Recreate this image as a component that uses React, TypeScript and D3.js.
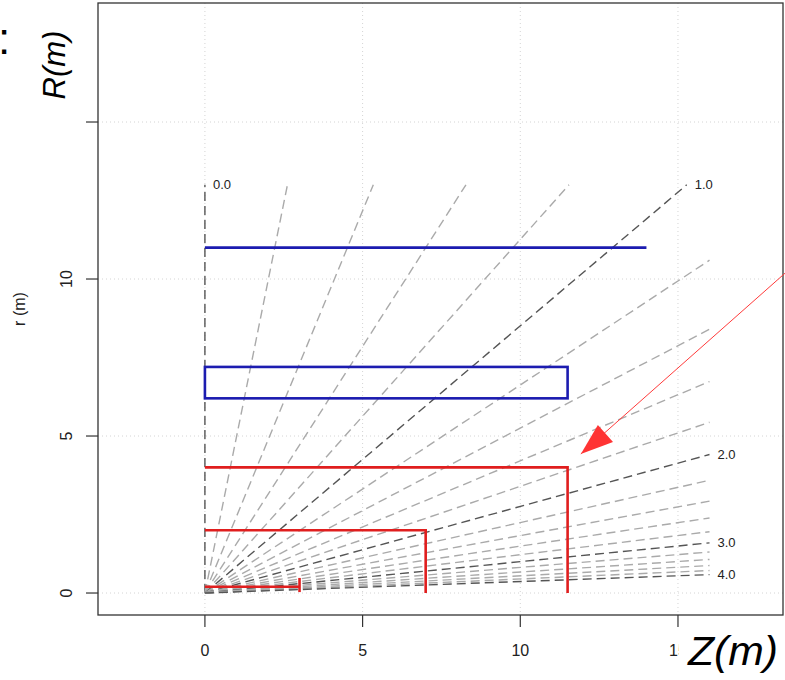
import React from "react";
import { scaleLinear, line } from "d3";

// pseudorapidity lines drawn from the origin, every 0.2
const etaValues = [
  0.0, 0.2, 0.4, 0.6, 0.8, 1.0, 1.2, 1.4, 1.6, 1.8, 2.0, 2.2, 2.4, 2.6, 2.8,
  3.0, 3.2, 3.4, 3.6, 3.8, 4.0,
];
const etaLabelled = [0, 1, 2, 3, 4];
const etaRMax = 13;
const etaZMax = 16;

const xTicks = [0, 5, 10, 15];
const yTicks = [0, 5, 10, 15];
const xTickLabels = ["0", "5", "10", "15"];
const yTickLabels = ["0", "5", "10", "15"];

// detector outlines (z, r in metres)
const blueLines = [{ r: 11, z0: 0, z1: 14 }];
const blueBoxes = [{ r0: 6.2, r1: 7.2, z0: 0, z1: 11.5 }];
const redCorners = [
  { r: 4, z: 11.5 },
  { r: 2, z: 7 },
];
const redSmall = [{ r: 0.2, z: 3, rLo: 0.03, rHi: 0.48 }];

// annotation arrow
const arrowFrom: [number, number] = [18.4, 10.19];
const arrowTip: [number, number] = [11.92, 4.43];
const arrowBase: [number, number][] = [
  [12.46, 5.35],
  [12.94, 4.81],
];

const W = 785;
const H = 680;
const box = { left: 98, top: 3, right: 783, bottom: 615 };

export default function App() {
  const x = scaleLinear().domain([-3.39, 18.33]).range([box.left, box.right]);
  const y = scaleLinear().domain([-0.7, 18.79]).range([box.bottom, box.top]);
  const path = line<[number, number]>()
    .x((d) => x(d[0]))
    .y((d) => y(d[1]));

  const etaEnd = (eta: number): [number, number] => {
    const s = Math.sinh(eta);
    if (s === 0) return [0, etaRMax];
    const z = Math.min(etaZMax, etaRMax * s);
    return [z, z / s];
  };
  const isLabelled = (eta: number) =>
    etaLabelled.some((e) => Math.abs(e - eta) < 1e-6);

  const font = "'Liberation Sans', Arial, Helvetica, sans-serif";

  return (
    <svg
      width={W}
      height={H}
      style={{ position: "absolute", left: 0, top: 0, background: "#fff" }}
      fontFamily={font}
    >
      {/* grid */}
      <g stroke="#d4d4d4" strokeWidth={1} strokeDasharray="1,3">
        {xTicks.map((t) => (
          <line key={"gx" + t} x1={x(t)} x2={x(t)} y1={box.top} y2={box.bottom} />
        ))}
        {yTicks.map((t) => (
          <line key={"gy" + t} x1={box.left} x2={box.right} y1={y(t)} y2={y(t)} />
        ))}
      </g>

      {/* eta lines */}
      <g fill="none" strokeDasharray="9,5">
        {etaValues.map((eta) => {
          const end = etaEnd(eta);
          const dark = isLabelled(eta);
          return (
            <path
              key={"eta" + eta}
              d={path([[0, 0], end]) || ""}
              stroke={dark ? "#555" : "#aaa"}
              strokeWidth={1.4}
            />
          );
        })}
      </g>
      <g fontSize={13} fill="#222">
        {etaLabelled.map((eta) => {
          const end = etaEnd(eta);
          return (
            <text
              key={"etal" + eta}
              x={x(end[0]) + 8}
              y={y(end[1])}
              dy="0.35em"
            >
              {eta.toFixed(1)}
            </text>
          );
        })}
      </g>

      {/* blue outlines */}
      <g fill="none" stroke="#1c1cb0" strokeWidth={2.6}>
        {blueLines.map((b, i) => (
          <path key={"bl" + i} d={path([[b.z0, b.r], [b.z1, b.r]]) || ""} />
        ))}
        {blueBoxes.map((b, i) => (
          <rect
            key={"bb" + i}
            x={x(b.z0)}
            y={y(b.r1)}
            width={x(b.z1) - x(b.z0)}
            height={y(b.r0) - y(b.r1)}
          />
        ))}
      </g>

      {/* red outlines */}
      <g fill="none" stroke="#e01e1e" strokeWidth={2.6}>
        {redCorners.map((c, i) => (
          <path
            key={"rc" + i}
            d={path([[0, c.r], [c.z, c.r], [c.z, 0]]) || ""}
          />
        ))}
        {redSmall.map((c, i) => (
          <g key={"rs" + i}>
            <path d={path([[0, c.r], [c.z, c.r]]) || ""} />
            <path d={path([[c.z, c.rLo], [c.z, c.rHi]]) || ""} />
          </g>
        ))}
      </g>

      {/* frame */}
      <rect
        x={box.left}
        y={box.top}
        width={box.right - box.left}
        height={box.bottom - box.top}
        fill="none"
        stroke="#333"
        strokeWidth={1.3}
      />

      {/* axes */}
      <g stroke="#333" strokeWidth={1.2}>
        {xTicks.map((t) => (
          <line key={"tx" + t} x1={x(t)} x2={x(t)} y1={box.bottom} y2={box.bottom + 12} />
        ))}
        {yTicks.map((t) => (
          <line key={"ty" + t} x1={box.left - 12} x2={box.left} y1={y(t)} y2={y(t)} />
        ))}
      </g>
      <g fontSize={16} fill="#222" textAnchor="middle">
        {xTicks.map((t, i) => (
          <text key={"lx" + t} x={x(t)} y={656}>
            {xTickLabels[i]}
          </text>
        ))}
        {yTicks.map((t, i) => (
          <text
            key={"ly" + t}
            x={72}
            y={y(t)}
            transform={`rotate(-90, 72, ${y(t)})`}
          >
            {yTickLabels[i]}
          </text>
        ))}
        <text
          x={25}
          y={(box.top + box.bottom) / 2}
          fontSize={16}
          transform={`rotate(-90, 25, ${(box.top + box.bottom) / 2})`}
        >
          r (m)
        </text>
      </g>

      {/* annotation arrow */}
      <path
        d={path([arrowFrom, arrowTip]) || ""}
        stroke="#ff3a3a"
        strokeWidth={1}
        fill="none"
      />
      <path
        d={(path([arrowTip, arrowBase[0], arrowBase[1]]) || "") + "Z"}
        fill="#ff3434"
        stroke="none"
      />

      {/* overlaid axis names */}
      <text x={-2} y={54} fontSize={44} fill="#000" fontFamily={font}>
        :
      </text>
      <rect x={30} y={26} width={55} height={112} fill="#fff" />
      <text
        x={65}
        y={65}
        fontSize={31}
        fontStyle="italic"
        textAnchor="middle"
        transform="rotate(-90, 65, 65)"
        fill="#000"
      >
        R(m)
      </text>
      <rect x={679} y={628} width={106} height={52} fill="#fff" />
      <text
        x={688}
        y={665}
        fontSize={40}
        fontStyle="italic"
        fill="#000"
        textLength={90}
        lengthAdjust="spacingAndGlyphs"
      >
        Z(m)
      </text>
    </svg>
  );
}
